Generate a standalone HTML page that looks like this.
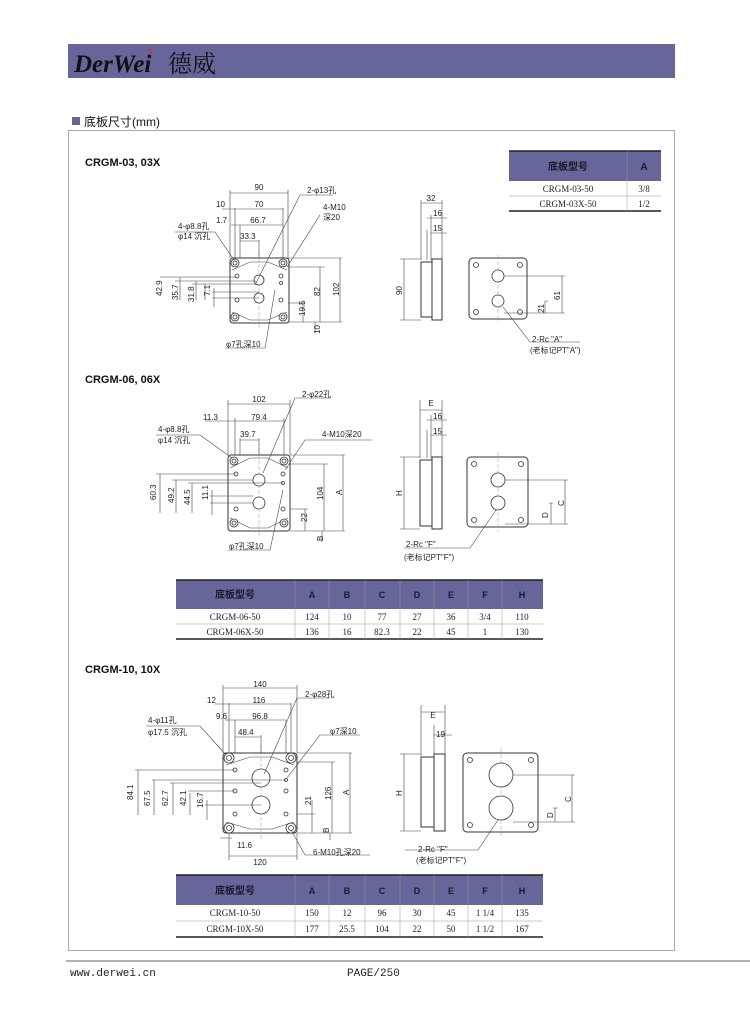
<!DOCTYPE html>
<html><head><meta charset="utf-8"><style>
body{margin:0;background:#fff;}
svg{display:block;font-family:"Liberation Sans","Noto Sans CJK SC",sans-serif;}
.t{font-size:8px;fill:#222}
.s{font-family:"Liberation Serif","Noto Serif CJK SC",serif;font-size:9px;fill:#222}
.h{font-size:10px;fill:#1a1a2a;font-weight:bold;font-family:"Liberation Sans","Noto Sans CJK SC",sans-serif}
.d{stroke:#444;stroke-width:.6;fill:none}
.p{stroke:#333;stroke-width:1;fill:#fff}
.c{stroke:#333;stroke-width:.8;fill:#fff}
.g{stroke:#999;stroke-width:.5;fill:none;stroke-dasharray:4 2}
</style></head><body>
<svg width="750" height="1018" viewBox="0 0 750 1018">
<rect x="68" y="44" width="607" height="34" fill="#67669a"/>
<text x="74" y="72" font-family="Liberation Serif,serif" font-style="italic" font-weight="bold" font-size="25" fill="#111">DerWei</text>
<text x="168" y="72" font-family="Noto Serif CJK SC,serif" font-size="24" fill="#111">德威</text>
<circle cx="150" cy="51" r="2" fill="none" stroke="#c33" stroke-width=".8"/>
<rect x="72" y="117" width="8" height="8" fill="#67669a"/>
<text x="84" y="126" font-size="12" fill="#111">底板尺寸(mm)</text>
<rect x="68.5" y="130.5" width="606" height="820" fill="none" stroke="#aaa"/>
<line x1="66" y1="961" x2="750" y2="961" stroke="#666"/>
<text x="70" y="976" font-family="Liberation Mono,monospace" font-size="11" fill="#222">www.derwei.cn</text>
<text x="347" y="976" font-family="Liberation Mono,monospace" font-size="11" fill="#222">PAGE/250</text>

<!-- Section 1 -->
<text x="85" y="166" font-size="11" font-weight="bold" fill="#111">CRGM-03, 03X</text>
<rect x="509" y="151" width="152" height="30" fill="#67669a"/>
<line x1="509" y1="151" x2="661" y2="151" stroke="#222" stroke-width="1.5"/>
<line x1="509" y1="211" x2="661" y2="211" stroke="#222" stroke-width="1.5"/>
<line x1="509" y1="196" x2="661" y2="196" stroke="#999" stroke-width=".5"/>
<line x1="627" y1="151" x2="627" y2="211" stroke="#999" stroke-width=".5"/>
<text x="568" y="170" class="h" text-anchor="middle">底板型号</text>
<text x="644" y="170" class="h" text-anchor="middle" font-size="9">A</text>
<text x="568" y="192" class="s" text-anchor="middle">CRGM-03-50</text>
<text x="568" y="207" class="s" text-anchor="middle">CRGM-03X-50</text>
<text x="644" y="192" class="s" text-anchor="middle">3/8</text>
<text x="644" y="207" class="s" text-anchor="middle">1/2</text>

<g>
<rect x="230" y="258" width="59" height="65" rx="3" class="p"/>
<path d="M232 270 L250 262 L268 262 L287 270 M232 312 L250 320 L268 320 L287 312" class="d"/>
<line x1="259" y1="252" x2="259" y2="330" class="g"/>
<circle cx="235" cy="263" r="4" class="c"/><circle cx="235" cy="263" r="2" class="c"/>
<circle cx="283" cy="263" r="4" class="c"/><circle cx="283" cy="263" r="2" class="c"/>
<circle cx="235" cy="317" r="4" class="c"/><circle cx="235" cy="317" r="2" class="c"/>
<circle cx="283" cy="317" r="4" class="c"/><circle cx="283" cy="317" r="2" class="c"/>
<circle cx="237" cy="276" r="2" class="c"/><circle cx="281" cy="276" r="2" class="c"/>
<circle cx="237" cy="300" r="2" class="c"/><circle cx="281" cy="300" r="2" class="c"/>
<circle cx="281" cy="283" r="1.5" class="c"/>
<circle cx="259" cy="280" r="5" class="c"/><circle cx="259" cy="298" r="5" class="c"/>
<path d="M230 190 V258 M288 190 V258 M235 208 V258 M283 208 V258 M240 225 V258 M259 240 V258" class="d"/>
<path d="M230 193 H288 M222 209 H283 M231 225 H283 M240 241 H259" class="d"/>
<text x="259" y="190" class="t" text-anchor="middle">90</text>
<text x="216" y="207" class="t">10</text><text x="259" y="207" class="t" text-anchor="middle">70</text>
<text x="216" y="223" class="t">1.7</text><text x="258" y="223" class="t" text-anchor="middle">66.7</text>
<text x="240" y="239" class="t">33.3</text>
<text x="178" y="229" class="t">4-φ8.8孔</text><text x="178" y="239" class="t">φ14 沉孔</text>
<path d="M175 232 H215 L234 260 M255 285 L300 195 H333 M287 267 L320 215" class="d"/>
<text x="307" y="193" class="t">2-φ13孔</text>
<text x="323" y="210" class="t">4-M10</text><text x="323" y="220" class="t">深20</text>
<path d="M160 277 H237 M175 281 H256 M192 284 H256 M212 292 H259 M212 298 H259 M180 277 V300 M196 281 V300 M205 284 V300 M214 288 V307" class="d"/>
<text x="162" y="296" class="t" transform="rotate(-90 162 296)">42.9</text>
<text x="178" y="300" class="t" transform="rotate(-90 178 300)">35.7</text>
<text x="194" y="302" class="t" transform="rotate(-90 194 302)">31.8</text>
<text x="210" y="296" class="t" transform="rotate(-90 210 296)">7.1</text>
<path d="M288 258 H342 M288 267 H325 M288 303 H305 M288 322 H342 M303 303 V322 M320 267 V322 M340 258 V322 M315 322 V333" class="d"/>
<text x="305" y="316" class="t" transform="rotate(-90 305 316)">19.5</text>
<text x="320" y="296" class="t" transform="rotate(-90 320 296)">82</text>
<text x="339" y="296" class="t" transform="rotate(-90 339 296)">102</text>
<text x="320" y="334" class="t" transform="rotate(-90 320 334)">10</text>
<path d="M275 290 L265 348 H225" class="d"/>
<text x="226" y="347" class="t">φ7孔深10</text>
</g>
<g>
<rect x="421" y="262" width="11" height="55" class="p"/>
<rect x="432" y="259" width="10" height="61" class="p"/>
<path d="M421 200 V260 M442 200 V260 M431 215 V260 M427 230 V260 M421 203 H442 M427 218 H447 M431 233 H447 M400 259 H421 M400 320 H421 M404 259 V320" class="d"/>
<text x="431" y="201" class="t" text-anchor="middle">32</text>
<text x="433" y="216" class="t">16</text><text x="433" y="231" class="t">15</text>
<text x="402" y="295" class="t" transform="rotate(-90 402 295)">90</text>
<rect x="469" y="258" width="58" height="61" rx="4" class="p"/>
<line x1="498" y1="255" x2="498" y2="322" class="g"/>
<circle cx="476" cy="265" r="2.5" class="c"/><circle cx="520" cy="265" r="2.5" class="c"/>
<circle cx="476" cy="312" r="2.5" class="c"/><circle cx="520" cy="312" r="2.5" class="c"/>
<circle cx="498" cy="276" r="6" class="c"/><circle cx="498" cy="301" r="6" class="c"/>
<path d="M504 276 H565 M504 313 H565 M545 301 H548 M545 301 V313 M562 276 V313 M503 307 L530 342 H580" class="d"/>
<text x="560" y="300" class="t" transform="rotate(-90 560 300)">61</text>
<text x="544" y="313" class="t" transform="rotate(-90 544 313)">21</text>
<text x="532" y="342" class="t">2-Rc "A"</text><text x="530" y="353" class="t">(老标记PT"A")</text>
</g>

<!-- Section 2 -->
<text x="85" y="383" font-size="11" font-weight="bold" fill="#111">CRGM-06, 06X</text>
<g>
<rect x="228" y="455" width="62" height="76" rx="3" class="p"/>
<path d="M230 468 L250 458 L268 458 L288 468 M230 518 L250 528 L268 528 L288 518" class="d"/>
<line x1="259" y1="448" x2="259" y2="538" class="g"/>
<circle cx="234" cy="461" r="4" class="c"/><circle cx="234" cy="461" r="2" class="c"/>
<circle cx="284" cy="461" r="4" class="c"/><circle cx="284" cy="461" r="2" class="c"/>
<circle cx="234" cy="523" r="4" class="c"/><circle cx="234" cy="523" r="2" class="c"/>
<circle cx="284" cy="523" r="4" class="c"/><circle cx="284" cy="523" r="2" class="c"/>
<circle cx="236" cy="474" r="2" class="c"/><circle cx="283" cy="474" r="2" class="c"/>
<circle cx="236" cy="509" r="2" class="c"/><circle cx="283" cy="509" r="2" class="c"/>
<circle cx="283" cy="483" r="1.5" class="c"/>
<circle cx="259" cy="480" r="6" class="c"/><circle cx="259" cy="503" r="6" class="c"/>
<path d="M228 400 V455 M290 400 V455 M235 418 V455 M284 418 V455 M240 438 V455 M259 438 V455" class="d"/>
<path d="M228 404 H290 M205 421 H284 M235 421 H284 M240 440 H259" class="d"/>
<text x="259" y="402" class="t" text-anchor="middle">102</text>
<text x="203" y="420" class="t">11.3</text><text x="259" y="420" class="t" text-anchor="middle">79.4</text>
<text x="240" y="437" class="t">39.7</text>
<text x="158" y="432" class="t">4-φ8.8孔</text><text x="158" y="443" class="t">φ14 沉孔</text>
<path d="M156 435 H200 L232 458 M263 473 L295 398 H330 M285 470 L305 440 H372" class="d"/>
<text x="302" y="397" class="t">2-φ22孔</text>
<text x="322" y="437" class="t">4-M10深20</text>
<path d="M156 474 H236 M172 480 H253 M188 483 H283 M210 496 H253 M210 503 H253 M160 474 V513 M176 480 V513 M192 483 V513 M212 490 V515" class="d"/>
<text x="156" y="500" class="t" transform="rotate(-90 156 500)">60.3</text>
<text x="174" y="503" class="t" transform="rotate(-90 174 503)">49.2</text>
<text x="190" y="505" class="t" transform="rotate(-90 190 505)">44.5</text>
<text x="208" y="500" class="t" transform="rotate(-90 208 500)">11.1</text>
<path d="M290 455 H345 M290 464 H328 M290 509 H308 M290 531 H345 M305 509 V531 M324 464 V531 M343 455 V531 M322 531 V542" class="d"/>
<text x="307" y="522" class="t" transform="rotate(-90 307 522)">22</text>
<text x="323" y="500" class="t" transform="rotate(-90 323 500)">104</text>
<text x="342" y="495" class="t" transform="rotate(-90 342 495)">A</text>
<text x="323" y="541" class="t" transform="rotate(-90 323 541)">B</text>
<path d="M283 490 L270 550 H228" class="d"/>
<text x="229" y="549" class="t">φ7孔深10</text>
</g>
<g>
<rect x="420" y="460" width="12" height="66" class="p"/>
<rect x="432" y="457" width="10" height="72" class="p"/>
<path d="M420 400 V458 M442 400 V458 M431 415 V458 M427 430 V458 M420 410 H442 M427 420 H447 M431 435 H447 M400 457 H420 M400 529 H420 M404 457 V529" class="d"/>
<text x="431" y="406" class="t" text-anchor="middle">E</text>
<text x="433" y="419" class="t">16</text><text x="433" y="434" class="t">15</text>
<text x="402" y="496" class="t" transform="rotate(-90 402 496)">H</text>
<rect x="467" y="457" width="61" height="70" rx="4" class="p"/>
<line x1="498" y1="452" x2="498" y2="532" class="g"/>
<circle cx="474" cy="464" r="2.5" class="c"/><circle cx="521" cy="464" r="2.5" class="c"/>
<circle cx="474" cy="520" r="2.5" class="c"/><circle cx="521" cy="520" r="2.5" class="c"/>
<circle cx="498" cy="480" r="7" class="c"/><circle cx="498" cy="503" r="7" class="c"/>
<path d="M505 480 H568 M505 524 H568 M549 503 H553 M551 503 V524 M565 480 V524 M496 510 L470 548 H404" class="d"/>
<text x="564" y="506" class="t" transform="rotate(-90 564 506)">C</text>
<text x="548" y="518" class="t" transform="rotate(-90 548 518)">D</text>
<text x="406" y="547" class="t">2-Rc "F"</text><text x="404" y="560" class="t">(老标记PT"F")</text>
</g>
<rect x="176" y="580" width="367" height="29" fill="#67669a"/>
<line x1="176" y1="580" x2="543" y2="580" stroke="#222" stroke-width="1.5"/>
<line x1="176" y1="639" x2="543" y2="639" stroke="#222" stroke-width="1.5"/>
<line x1="176" y1="624" x2="543" y2="624" stroke="#999" stroke-width=".5"/>
<g stroke="#999" stroke-width=".5"><line x1="295" y1="580" x2="295" y2="639"/><line x1="329" y1="580" x2="329" y2="639"/><line x1="365" y1="580" x2="365" y2="639"/><line x1="400" y1="580" x2="400" y2="639"/><line x1="434" y1="580" x2="434" y2="639"/><line x1="468" y1="580" x2="468" y2="639"/><line x1="502" y1="580" x2="502" y2="639"/></g>
<g class="h" text-anchor="middle"><text x="235" y="598">底板型号</text><text x="312" y="598" font-size="9">A</text><text x="347" y="598" font-size="9">B</text><text x="382" y="598" font-size="9">C</text><text x="417" y="598" font-size="9">D</text><text x="451" y="598" font-size="9">E</text><text x="485" y="598" font-size="9">F</text><text x="522" y="598" font-size="9">H</text></g>
<g class="s" text-anchor="middle"><text x="235" y="620">CRGM-06-50</text><text x="312" y="620">124</text><text x="347" y="620">10</text><text x="382" y="620">77</text><text x="417" y="620">27</text><text x="451" y="620">36</text><text x="485" y="620">3/4</text><text x="522" y="620">110</text>
<text x="235" y="635">CRGM-06X-50</text><text x="312" y="635">136</text><text x="347" y="635">16</text><text x="382" y="635">82.3</text><text x="417" y="635">22</text><text x="451" y="635">45</text><text x="485" y="635">1</text><text x="522" y="635">130</text></g>

<!-- Section 3 -->
<text x="85" y="673" font-size="11" font-weight="bold" fill="#111">CRGM-10, 10X</text>
<g>
<rect x="223" y="753" width="74" height="80" rx="3" class="p"/>
<path d="M226 765 L250 757 L272 757 L294 765 M226 822 L250 829 L272 829 L294 822" class="d"/>
<line x1="261" y1="745" x2="261" y2="840" class="g"/>
<circle cx="229" cy="758" r="5" class="c"/><circle cx="229" cy="758" r="2.5" class="c"/>
<circle cx="291" cy="758" r="5" class="c"/><circle cx="291" cy="758" r="2.5" class="c"/>
<circle cx="229" cy="828" r="5" class="c"/><circle cx="229" cy="828" r="2.5" class="c"/>
<circle cx="291" cy="828" r="5" class="c"/><circle cx="291" cy="828" r="2.5" class="c"/>
<circle cx="235" cy="770" r="2" class="c"/><circle cx="286" cy="770" r="2" class="c"/>
<circle cx="235" cy="791" r="2" class="c"/><circle cx="286" cy="791" r="2" class="c"/>
<circle cx="235" cy="814" r="2" class="c"/><circle cx="286" cy="814" r="2" class="c"/>
<circle cx="286" cy="780" r="1.5" class="c"/>
<circle cx="261" cy="778" r="9" class="c"/><circle cx="261" cy="805" r="9" class="c"/>
<path d="M223 685 V753 M297 685 V753 M229 703 V753 M291 703 V753 M235 720 V753 M286 720 V753 M235 735 V753 M261 735 V753" class="d"/>
<path d="M223 688 H297 M215 704 H291 M225 720 H286 M235 737 H261" class="d"/>
<text x="260" y="687" class="t" text-anchor="middle">140</text>
<text x="207" y="703" class="t">12</text><text x="259" y="703" class="t" text-anchor="middle">116</text>
<text x="216" y="719" class="t">9.6</text><text x="260" y="719" class="t" text-anchor="middle">96.8</text>
<text x="238" y="735" class="t">48.4</text>
<text x="148" y="723" class="t">4-φ11孔</text><text x="148" y="735" class="t">φ17.5 沉孔</text>
<path d="M146 726 H200 L226 755 M264 774 L297 698 H330 M287 778 L320 735 H360" class="d"/>
<text x="305" y="697" class="t">2-φ28孔</text>
<text x="330" y="734" class="t">φ7深10</text>
<path d="M135 770 H235 M152 780 H286 M170 783 H261 M188 791 H235 M205 805 H261 M138 770 V815 M154 780 V815 M173 783 V815 M190 793 V815 M207 800 V820" class="d"/>
<text x="133" y="800" class="t" transform="rotate(-90 133 800)">84.1</text>
<text x="150" y="806" class="t" transform="rotate(-90 150 806)">67.5</text>
<text x="168" y="806" class="t" transform="rotate(-90 168 806)">62.7</text>
<text x="186" y="806" class="t" transform="rotate(-90 186 806)">42.1</text>
<text x="203" y="808" class="t" transform="rotate(-90 203 808)">16.7</text>
<path d="M297 753 H352 M297 762 H335 M297 814 H315 M297 833 H352 M312 800 V833 M332 762 V833 M350 753 V833 M330 833 V840" class="d"/>
<text x="311" y="805" class="t" transform="rotate(-90 311 805)">21</text>
<text x="331" y="800" class="t" transform="rotate(-90 331 800)">126</text>
<text x="349" y="795" class="t" transform="rotate(-90 349 795)">A</text>
<text x="329" y="833" class="t" transform="rotate(-90 329 833)">B</text>
<path d="M220 838 H232 M229 833 V860 M297 833 V860 M229 856 H297 M291 830 L305 855 H370" class="d"/>
<text x="237" y="848" class="t">11.6</text>
<text x="260" y="865" class="t" text-anchor="middle">120</text>
<text x="313" y="855" class="t">6-M10孔深20</text>
</g>
<g>
<rect x="421" y="757" width="13" height="70" class="p"/>
<rect x="434" y="754" width="11" height="77" class="p"/>
<path d="M421 705 V756 M445 705 V756 M434 725 V756 M421 712 H445 M434 735 H452 M400 754 H421 M400 831 H421 M404 754 V831" class="d"/>
<text x="433" y="718" class="t" text-anchor="middle">E</text>
<text x="436" y="737" class="t">19</text>
<text x="402" y="796" class="t" transform="rotate(-90 402 796)">H</text>
<rect x="463" y="753" width="75" height="79" rx="4" class="p"/>
<line x1="501" y1="748" x2="501" y2="838" class="g"/>
<circle cx="470" cy="760" r="2.5" class="c"/><circle cx="531" cy="760" r="2.5" class="c"/>
<circle cx="470" cy="825" r="2.5" class="c"/><circle cx="531" cy="825" r="2.5" class="c"/>
<circle cx="501" cy="775" r="12" class="c"/><circle cx="501" cy="808" r="12" class="c"/>
<path d="M513 775 H575 M513 822 H575 M553 808 H558 M555 808 V822 M572 775 V822 M498 820 L478 850 H405" class="d"/>
<text x="571" y="802" class="t" transform="rotate(-90 571 802)">C</text>
<text x="553" y="818" class="t" transform="rotate(-90 553 818)">D</text>
<text x="418" y="852" class="t">2-Rc "F"</text><text x="416" y="863" class="t">(老标记PT"F")</text>
</g>
<rect x="176" y="875" width="367" height="30" fill="#67669a"/>
<line x1="176" y1="875" x2="543" y2="875" stroke="#222" stroke-width="1.5"/>
<line x1="176" y1="937" x2="543" y2="937" stroke="#222" stroke-width="1.5"/>
<line x1="176" y1="921" x2="543" y2="921" stroke="#999" stroke-width=".5"/>
<g stroke="#999" stroke-width=".5"><line x1="295" y1="875" x2="295" y2="937"/><line x1="329" y1="875" x2="329" y2="937"/><line x1="365" y1="875" x2="365" y2="937"/><line x1="400" y1="875" x2="400" y2="937"/><line x1="434" y1="875" x2="434" y2="937"/><line x1="468" y1="875" x2="468" y2="937"/><line x1="502" y1="875" x2="502" y2="937"/></g>
<g class="h" text-anchor="middle"><text x="235" y="894">底板型号</text><text x="312" y="894" font-size="9">A</text><text x="347" y="894" font-size="9">B</text><text x="382" y="894" font-size="9">C</text><text x="417" y="894" font-size="9">D</text><text x="451" y="894" font-size="9">E</text><text x="485" y="894" font-size="9">F</text><text x="522" y="894" font-size="9">H</text></g>
<g class="s" text-anchor="middle"><text x="235" y="916">CRGM-10-50</text><text x="312" y="916">150</text><text x="347" y="916">12</text><text x="382" y="916">96</text><text x="417" y="916">30</text><text x="451" y="916">45</text><text x="485" y="916">1 1/4</text><text x="522" y="916">135</text>
<text x="235" y="932">CRGM-10X-50</text><text x="312" y="932">177</text><text x="347" y="932">25.5</text><text x="382" y="932">104</text><text x="417" y="932">22</text><text x="451" y="932">50</text><text x="485" y="932">1 1/2</text><text x="522" y="932">167</text></g>
</svg>
</body></html>
